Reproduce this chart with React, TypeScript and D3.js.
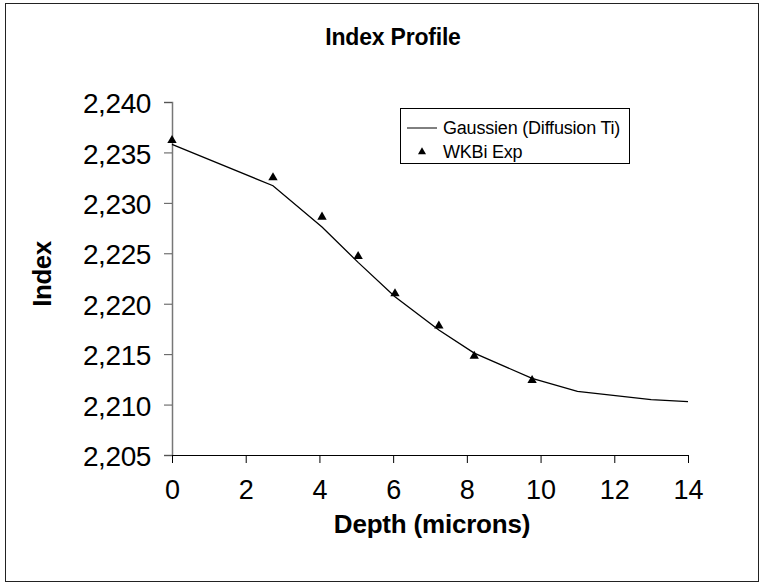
import { useEffect, useRef } from "react";
import * as d3 from "d3";

// Gaussien (Diffusion Ti) curve
const fitDepth = [0, 2.74, 4.07, 5.05, 6.05, 7.24, 8.2, 9.77, 11, 13, 14];
const fitIndex = [2.2358, 2.2317, 2.2276, 2.2241, 2.2207, 2.2174, 2.2151, 2.2126, 2.2113, 2.2105, 2.2103];

// WKBi Exp measurements
const expDepth = [0, 2.74, 4.07, 5.05, 6.05, 7.24, 8.2, 9.77];
const expIndex = [2.2362, 2.2325, 2.2286, 2.2247, 2.221, 2.2178, 2.2148, 2.2124];

const xTicks = [0, 2, 4, 6, 8, 10, 12, 14];
const yTicks = [2.205, 2.21, 2.215, 2.22, 2.225, 2.23, 2.235, 2.24];

const W = 764;
const H = 586;
const FONT = "'Liberation Sans', Arial, sans-serif";

export default function App() {
    const ref = useRef<SVGSVGElement>(null);

    useEffect(() => {
        const svg = d3.select(ref.current);
        svg.selectAll("*").remove();

        const left = 172, right = 688, top = 102, bottom = 455;

        const x = d3.scaleLinear().domain([0, 14]).range([left, right]);
        const y = d3.scaleLinear().domain([2.205, 2.24]).range([bottom, top]);

        // outer frame
        svg.append("rect")
            .attr("x", 5.5).attr("y", 3.5)
            .attr("width", 753).attr("height", 578)
            .attr("fill", "white")
            .attr("stroke", "#222")
            .attr("stroke-width", 1);

        // title
        svg.append("text")
            .attr("x", 393).attr("y", 45)
            .attr("text-anchor", "middle")
            .attr("font-family", FONT)
            .attr("font-weight", "bold")
            .attr("font-size", 23)
            .attr("letter-spacing", -0.2)
            .text("Index Profile");

        // y axis
        const yAxis = d3.axisLeft(y)
            .tickValues(yTicks)
            .tickSize(8)
            .tickPadding(13)
            .tickFormat(d => d3.format(".3f")(d as number).replace(".", ","));
        const gy = svg.append("g")
            .attr("transform", `translate(${left}, 0)`)
            .call(yAxis);
        gy.select(".domain").attr("stroke", "#777").attr("stroke-width", 1.5);
        gy.selectAll(".tick line").attr("stroke", "#555");
        gy.selectAll(".tick text")
            .attr("font-family", FONT)
            .attr("font-size", 28)
            .attr("letter-spacing", -0.4)
            .attr("dy", "0.38em")
            .attr("fill", "black");

        // x axis
        const xAxis = d3.axisBottom(x)
            .tickValues(xTicks)
            .tickSize(8)
            .tickPadding(17)
            .tickFormat(d3.format("d"));
        const gx = svg.append("g")
            .attr("transform", `translate(0, ${bottom})`)
            .call(xAxis);
        gx.select(".domain").attr("stroke", "black").attr("stroke-width", 1);
        gx.selectAll(".tick line").attr("stroke", "black");
        gx.selectAll(".tick text")
            .attr("font-family", FONT)
            .attr("font-size", 27)
            .attr("fill", "black");

        // axis titles
        svg.append("text")
            .attr("x", 432).attr("y", 533)
            .attr("text-anchor", "middle")
            .attr("font-family", FONT)
            .attr("font-weight", "bold")
            .attr("font-size", 26)
            .attr("letter-spacing", -0.2)
            .text("Depth (microns)");

        svg.append("text")
            .attr("transform", "translate(51, 274) rotate(-90)")
            .attr("text-anchor", "middle")
            .attr("font-family", FONT)
            .attr("font-weight", "bold")
            .attr("font-size", 26)
            .attr("letter-spacing", -0.5)
            .text("Index");

        // fitted curve
        const line = d3.line<number>()
            .x((d, i) => x(fitDepth[i]))
            .y(d => y(d));
        svg.append("path")
            .datum(fitIndex)
            .attr("fill", "none")
            .attr("stroke", "black")
            .attr("stroke-width", 1.3)
            .attr("d", line);

        // experimental points
        const tri = d3.symbol().type(d3.symbolTriangle).size(38);
        svg.selectAll(".pt")
            .data(expIndex)
            .enter().append("path")
            .attr("class", "pt")
            .attr("transform", (d, i) => `translate(${x(expDepth[i])}, ${y(d)})`)
            .attr("d", tri)
            .attr("fill", "black");

        // legend
        const lg = svg.append("g").attr("transform", "translate(400, 108)");
        lg.append("rect")
            .attr("x", 0.5).attr("y", 0.5)
            .attr("width", 229).attr("height", 55)
            .attr("fill", "white")
            .attr("stroke", "black");
        lg.append("line")
            .attr("x1", 7).attr("x2", 37)
            .attr("y1", 20).attr("y2", 20)
            .attr("stroke", "black");
        lg.append("path")
            .attr("transform", "translate(22, 44)")
            .attr("d", d3.symbol().type(d3.symbolTriangle).size(28))
            .attr("fill", "black");
        lg.selectAll(".lt")
            .data(["Gaussien (Diffusion Ti)", "WKBi Exp"])
            .enter().append("text")
            .attr("class", "lt")
            .attr("x", 43)
            .attr("y", (d, i) => 26 + i * 24)
            .attr("font-family", FONT)
            .attr("font-size", 18)
            .attr("letter-spacing", -0.2)
            .text(d => d);
    }, []);

    return (
        <svg ref={ref} width={W} height={H}
            style={{ position: "absolute", left: 0, top: 0, background: "white" }} />
    );
}
